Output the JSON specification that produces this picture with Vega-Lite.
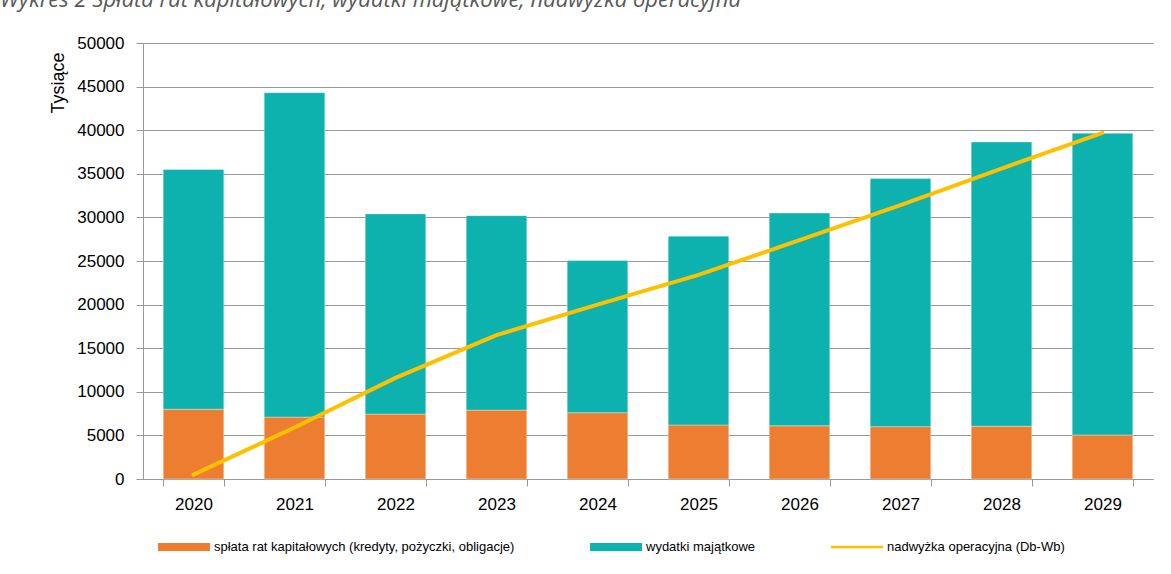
{
  "$schema": "https://vega.github.io/schema/vega-lite/v6.json",
  "width": 1010,
  "height": 436,
  "autosize": {"type": "none"},
  "padding": {"left": 143, "top": 43, "right": 18, "bottom": 95},
  "background": "white",
  "title": {
    "text": "Wykres 2 Spłata rat kapitałowych, wydatki majątkowe, nadwyżka operacyjna",
    "anchor": "start",
    "frame": "group",
    "dx": -143,
    "offset": 22,
    "font": "Open Sans",
    "fontStyle": "italic",
    "fontWeight": "normal",
    "fontSize": 22,
    "color": "#595959"
  },
  "data": {
    "values": [
      {"rok": "2020", "seria": "spłata rat kapitałowych (kredyty, pożyczki, obligacje)", "wartosc": 8000},
      {"rok": "2021", "seria": "spłata rat kapitałowych (kredyty, pożyczki, obligacje)", "wartosc": 7100},
      {"rok": "2022", "seria": "spłata rat kapitałowych (kredyty, pożyczki, obligacje)", "wartosc": 7450},
      {"rok": "2023", "seria": "spłata rat kapitałowych (kredyty, pożyczki, obligacje)", "wartosc": 7900},
      {"rok": "2024", "seria": "spłata rat kapitałowych (kredyty, pożyczki, obligacje)", "wartosc": 7600},
      {"rok": "2025", "seria": "spłata rat kapitałowych (kredyty, pożyczki, obligacje)", "wartosc": 6200},
      {"rok": "2026", "seria": "spłata rat kapitałowych (kredyty, pożyczki, obligacje)", "wartosc": 6100},
      {"rok": "2027", "seria": "spłata rat kapitałowych (kredyty, pożyczki, obligacje)", "wartosc": 6000},
      {"rok": "2028", "seria": "spłata rat kapitałowych (kredyty, pożyczki, obligacje)", "wartosc": 6050},
      {"rok": "2029", "seria": "spłata rat kapitałowych (kredyty, pożyczki, obligacje)", "wartosc": 5050},
      {"rok": "2020", "seria": "wydatki majątkowe", "wartosc": 27500},
      {"rok": "2021", "seria": "wydatki majątkowe", "wartosc": 37200},
      {"rok": "2022", "seria": "wydatki majątkowe", "wartosc": 22950},
      {"rok": "2023", "seria": "wydatki majątkowe", "wartosc": 22300},
      {"rok": "2024", "seria": "wydatki majątkowe", "wartosc": 17450},
      {"rok": "2025", "seria": "wydatki majątkowe", "wartosc": 21650},
      {"rok": "2026", "seria": "wydatki majątkowe", "wartosc": 24400},
      {"rok": "2027", "seria": "wydatki majątkowe", "wartosc": 28450},
      {"rok": "2028", "seria": "wydatki majątkowe", "wartosc": 32600},
      {"rok": "2029", "seria": "wydatki majątkowe", "wartosc": 34600},
      {"rok": "2020", "seria": "nadwyżka operacyjna (Db-Wb)", "wartosc": 500},
      {"rok": "2021", "seria": "nadwyżka operacyjna (Db-Wb)", "wartosc": 5900},
      {"rok": "2022", "seria": "nadwyżka operacyjna (Db-Wb)", "wartosc": 11600},
      {"rok": "2023", "seria": "nadwyżka operacyjna (Db-Wb)", "wartosc": 16500},
      {"rok": "2024", "seria": "nadwyżka operacyjna (Db-Wb)", "wartosc": 20000},
      {"rok": "2025", "seria": "nadwyżka operacyjna (Db-Wb)", "wartosc": 23400},
      {"rok": "2026", "seria": "nadwyżka operacyjna (Db-Wb)", "wartosc": 27400},
      {"rok": "2027", "seria": "nadwyżka operacyjna (Db-Wb)", "wartosc": 31400},
      {"rok": "2028", "seria": "nadwyżka operacyjna (Db-Wb)", "wartosc": 35600},
      {"rok": "2029", "seria": "nadwyżka operacyjna (Db-Wb)", "wartosc": 39700}
    ]
  },
  "encoding": {
    "x": {
      "field": "rok",
      "type": "ordinal",
      "scale": {"paddingInner": 0.4, "paddingOuter": 0.2},
      "axis": {
        "title": null,
        "labelAngle": 0,
        "labelFont": "Liberation Sans",
        "labelFontSize": 17,
        "labelColor": "#000000",
        "labelPadding": 10,
        "tickBand": "extent",
        "tickSize": 7,
        "tickColor": "#999999",
        "domainColor": "#999999",
        "grid": false
      }
    },
    "y": {
      "field": "wartosc",
      "type": "quantitative",
      "scale": {"domain": [0, 50000], "nice": false},
      "axis": {
        "title": "Tysiące",
        "titleFont": "Liberation Sans",
        "titleFontSize": 18,
        "titleFontWeight": "normal",
        "titleColor": "#000000",
        "titleAnchor": "end",
        "titleY": 9,
        "titlePadding": 9,
        "values": [0, 5000, 10000, 15000, 20000, 25000, 30000, 35000, 40000, 45000, 50000],
        "format": "d",
        "labelFont": "Liberation Sans",
        "labelFontSize": 17,
        "labelColor": "#000000",
        "labelPadding": 12,
        "tickSize": 7,
        "tickColor": "#999999",
        "domainColor": "#999999",
        "gridColor": "#999999",
        "gridWidth": 1.2
      }
    },
    "color": {
      "field": "seria",
      "type": "nominal",
      "scale": {
        "domain": ["spłata rat kapitałowych (kredyty, pożyczki, obligacje)", "wydatki majątkowe", "nadwyżka operacyjna (Db-Wb)"],
        "range": ["#ED7D31", "#0DB1AD", "#FFC000"]
      },
      "legend": {
        "title": null,
        "orient": "none",
        "direction": "horizontal",
        "legendX": 15,
        "legendY": 478,
        "columnPadding": 75,
        "symbolSize": 2704,
        "symbolStrokeWidth": 0,
        "labelFont": "Liberation Sans",
        "labelFontSize": 13,
        "labelLimit": 0,
        "labelColor": "#000000",
        "labelOffset": 4,
        "encode": {
          "symbols": {
            "update": {
              "shape": {"signal": "datum.value === 'nadwyżka operacyjna (Db-Wb)' ? 'M-1,-0.05H1V0.05H-1Z' : 'M-1,-0.15H1V0.15H-1Z'"},
              "fill": {"scale": "color", "field": "value"},
              "strokeWidth": {"value": 0}
            }
          }
        }
      }
    }
  },
  "layer": [
    {
      "transform": [{"filter": "datum.seria !== 'nadwyżka operacyjna (Db-Wb)'"}],
      "mark": {"type": "bar", "stroke": "#ffffff", "strokeWidth": 0.6, "strokeOpacity": 0.6},
      "encoding": {
        "order": {"field": "seria", "sort": "ascending"}
      }
    },
    {
      "transform": [{"filter": "datum.seria === 'nadwyżka operacyjna (Db-Wb)'"}],
      "mark": {"type": "line", "strokeWidth": 4, "strokeCap": "round"}
    }
  ],
  "config": {
    "view": {"stroke": null}
  }
}
